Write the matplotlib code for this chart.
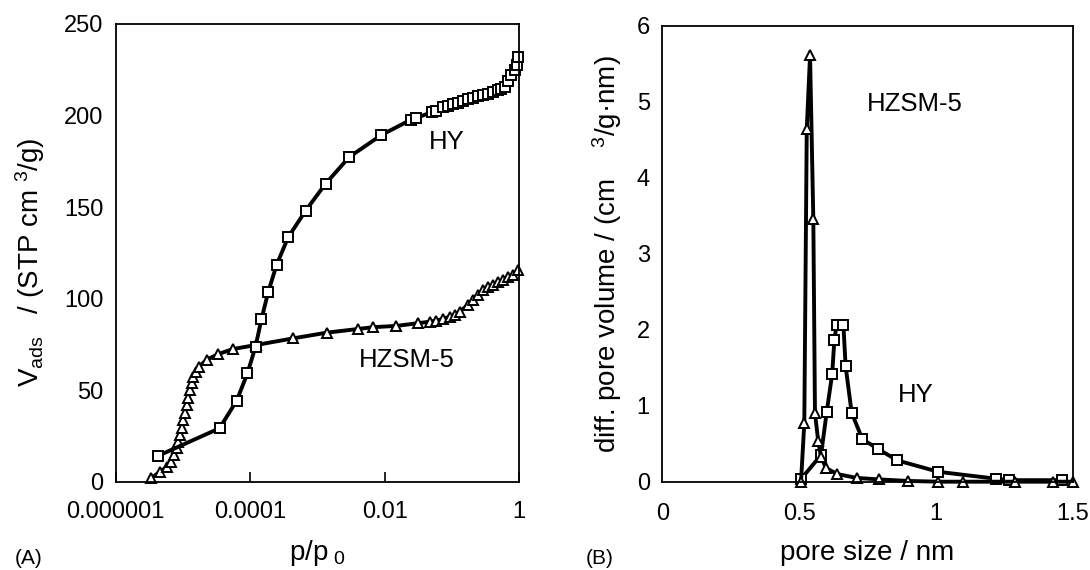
import matplotlib
matplotlib.use("Agg")
import matplotlib.pyplot as plt
import numpy as np

plt.rcParams['font.family'] = ['Liberation Sans', 'DejaVu Sans']
plt.rcParams['mathtext.fontset'] = 'custom'
plt.rcParams['mathtext.rm'] = 'Liberation Sans'
plt.rcParams['mathtext.it'] = 'Liberation Sans'

# ---- Panel A: isotherms ----
hy_p = [4.3e-6, 3.5e-5, 6.3e-5, 9.1e-5, 1.2e-4, 1.47e-4, 1.85e-4, 2.47e-4, 3.67e-4,
        6.7e-4, 1.32e-3, 2.97e-3, 8.9e-3, 0.0246, 0.0298, 0.05, 0.0575, 0.074,
        0.0879, 0.1045, 0.124, 0.147, 0.175, 0.207, 0.245, 0.292, 0.346, 0.41,
        0.487, 0.547, 0.612, 0.687, 0.77, 0.863, 0.934, 0.966]
hy_v = [14.2, 29.2, 44.3, 59.2, 73.8, 88.7, 103.5, 118.4, 133.5,
        148.1, 162.7, 177.3, 189.3, 197.7, 198.6, 201.9, 202.6, 204.6,
        205.3, 206.2, 207.1, 208.0, 209.0, 209.7, 210.4, 211.3, 212.0, 213.0,
        213.9, 214.6, 215.5, 218.6, 222.2, 225.0, 227.7, 231.9]

zsm_p = [3.33e-6, 4.54e-6, 5.83e-6, 6.55e-6, 7.33e-6, 8.05e-6, 8.5e-6, 9.0e-6, 9.55e-6,
         1.01e-5, 1.07e-5, 1.13e-5, 1.2e-5, 1.27e-5, 1.34e-5, 1.42e-5, 1.55e-5, 1.72e-5,
         2.24e-5, 3.27e-5, 5.59e-5, 1.24e-4, 4.37e-4, 1.37e-3, 4.0e-3, 6.76e-3, 0.015,
         0.0316, 0.047, 0.059, 0.074, 0.093, 0.111, 0.131, 0.175, 0.207, 0.245, 0.29,
         0.346, 0.41, 0.487, 0.578, 0.687, 0.815, 0.966]
zsm_v = [1.8, 5.5, 8.2, 10.9, 14.6, 18.2, 21.9, 25.5, 29.2,
         33.7, 37.4, 41.9, 45.6, 50.1, 53.8, 57.4, 60.1, 62.8,
         66.5, 69.6, 72.5, 74.7, 78.3, 81.4, 83.4, 84.4, 85.1,
         86.6, 87.4, 88.0, 88.9, 90.2, 91.1, 92.9, 96.6, 99.3, 102.0, 104.8,
         106.2, 107.5, 109.0, 110.2, 111.7, 112.9, 115.7]

# ---- Panel B: pore size distributions ----
zsm_d = [0.507, 0.519, 0.528, 0.540, 0.552, 0.558, 0.570, 0.580, 0.598, 0.640,
         0.710, 0.793, 0.899, 1.009, 1.10, 1.289, 1.427, 1.50]
zsm_dv = [0.0, 0.77, 4.64, 5.61, 3.45, 0.90, 0.53, 0.33, 0.18, 0.10,
          0.05, 0.03, 0.01, 0.0, 0.0, 0.0, 0.0, 0.0]
hy_d = [0.507, 0.580, 0.601, 0.621, 0.629, 0.637, 0.662, 0.670, 0.692, 0.731,
        0.789, 0.859, 1.009, 1.218, 1.267, 1.46]
hy_dv = [0.035, 0.35, 0.92, 1.42, 1.87, 2.06, 2.06, 1.52, 0.91, 0.56,
         0.43, 0.28, 0.13, 0.04, 0.02, 0.02]

x_ticks_a = [1e-6, 1e-4, 1e-2, 1]
x_ticklabels_a = ['0.000001', '0.0001', '0.01', '1']

TICK = 17
LAB = 20
ANN = 18.5

fig = plt.figure(figsize=(10.9, 5.7), dpi=100)
W, H = 1090, 570
axA = fig.add_axes([115.8 / W, 1 - 481.7 / H, (519 - 115.8) / W, (481.7 - 24) / H])
axB = fig.add_axes([662.3 / W, 1 - 481.7 / H, (1072.7 - 662.3) / W, (481.7 - 25.7) / H])

lw = 2.8
mk = dict(markersize=7.5, markerfacecolor='white', markeredgecolor='black', markeredgewidth=1.4)

axA.plot(zsm_p, zsm_v, '-', color='black', lw=lw, marker='^', clip_on=False, **mk)
axA.plot(hy_p, hy_v, '-', color='black', lw=lw, marker='s', clip_on=False, **mk)
axA.set_xscale('log')
axA.set_xlim(1e-6, 1)
axA.set_ylim(0, 250)
axA.set_xticks(x_ticks_a)
axA.set_xticklabels(x_ticklabels_a)
axA.xaxis.set_minor_locator(matplotlib.ticker.NullLocator())
axA.set_yticks([0, 50, 100, 150, 200, 250])
axA.tick_params(axis='x', direction='in', length=7, width=1.2, labelsize=TICK, pad=14)
axA.tick_params(axis='y', length=0, labelsize=TICK, pad=9)
axA.set_xlabel(r'p/p$_{\ 0}$', fontsize=LAB, va='center')
axA.xaxis.set_label_coords(0.5, -0.156)
axA.set_ylabel(r'V$_{\mathrm{ads}}$   / (STP cm $^3$/g)', fontsize=LAB, va='center')
axA.yaxis.set_label_coords(-0.213, 0.48)
axA.text(0.083, 185.8, 'HY', fontsize=ANN, ha='center', va='center')
axA.text(0.0211, 66.5, 'HZSM-5', fontsize=ANN, ha='center', va='center')

axB.plot(hy_d, hy_dv, '-', color='black', lw=lw, marker='s', clip_on=False, **mk)
axB.plot(zsm_d, zsm_dv, '-', color='black', lw=lw, marker='^', clip_on=False, **mk)
axB.set_xlim(0, 1.5)
axB.set_ylim(0, 6)
axB.set_xticks([0, 0.5, 1, 1.5])
axB.set_xticklabels(['0', '0.5', '1', '1.5'])
axB.set_yticks([0, 1, 2, 3, 4, 5, 6])
axB.tick_params(axis='x', length=0, labelsize=TICK, pad=15)
axB.tick_params(axis='y', length=0, labelsize=TICK, pad=9)
axB.set_xlabel('pore size / nm', fontsize=LAB, va='center')
axB.xaxis.set_label_coords(0.5, -0.156)
axB.set_ylabel(r'diff. pore volume / (cm    $^3$/g·nm)', fontsize=LAB, va='center')
axB.yaxis.set_label_coords(-0.135, 0.5)
axB.text(0.924, 4.97, 'HZSM-5', fontsize=ANN, ha='center', va='center')
axB.text(0.927, 1.14, 'HY', fontsize=ANN, ha='center', va='center')

for ax in (axA, axB):
    for s in ax.spines.values():
        s.set_linewidth(1.3)

fig.text(15 / W, 1 - 559 / H, '(A)', fontsize=15, ha='left', va='center')
fig.text(586 / W, 1 - 559 / H, '(B)', fontsize=15, ha='left', va='center')

fig.savefig('out.png', dpi=100)
